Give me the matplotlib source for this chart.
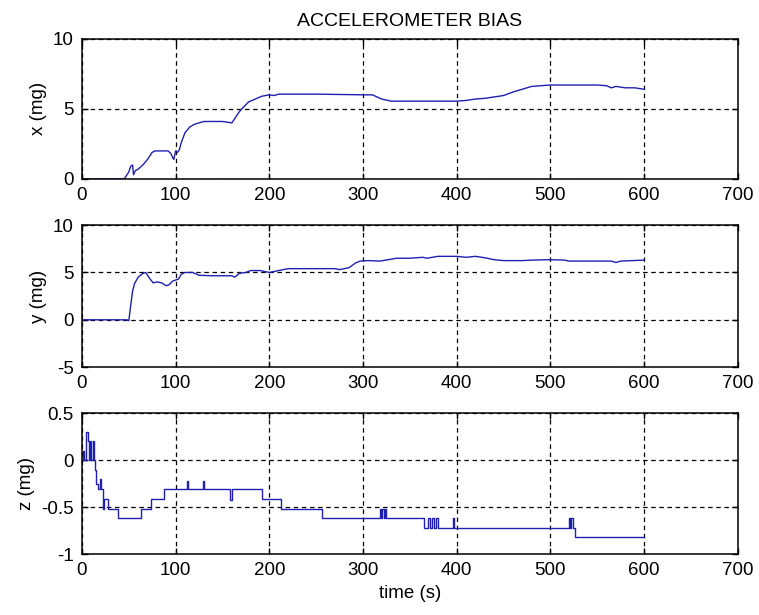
import matplotlib
matplotlib.use("Agg")
import matplotlib.pyplot as plt

plt.rcParams['font.family'] = ['Liberation Sans', 'DejaVu Sans']
plt.rcParams['axes.unicode_minus'] = False

# x bias (mg)
tx = [0, 45, 50, 52, 54, 55, 57, 60, 65, 70, 75, 78, 85, 92, 95, 97, 98, 100, 102, 104, 106, 110, 115,
      120, 125, 130, 140, 150, 160, 163, 168, 172, 178, 185, 192, 200, 205, 210, 250, 300, 310, 315,
      320, 330, 400, 410, 420, 430, 440, 450, 460, 470, 480, 490, 500, 520, 550, 560, 565, 570, 580,
      590, 600]
xb = [0, 0, 0.5, 0.9, 1.0, 0.3, 0.6, 0.7, 1.0, 1.4, 1.9, 2.0, 2.0, 2.0, 1.8, 1.5, 1.4, 2.0, 1.9, 2.1,
      2.6, 3.3, 3.7, 3.9, 4.0, 4.1, 4.1, 4.1, 4.0, 4.3, 4.8, 5.1, 5.5, 5.7, 5.9, 6.0, 5.95, 6.05, 6.05,
      6.0, 6.0, 5.85, 5.7, 5.55, 5.55, 5.6, 5.7, 5.75, 5.85, 5.95, 6.2, 6.4, 6.6, 6.65, 6.7, 6.7, 6.7,
      6.65, 6.5, 6.6, 6.5, 6.5, 6.4]

# y bias (mg)
ty = [0, 48, 50, 52, 54, 56, 60, 65, 68, 72, 76, 80, 85, 90, 93, 97, 100, 103, 106, 110, 118, 125,
      140, 160, 163, 168, 175, 180, 190, 200, 210, 220, 240, 270, 275, 285, 292, 297, 305, 318, 336,
      350, 364, 368, 380, 400, 410, 420, 430, 440, 450, 470, 480, 500, 515, 520, 565, 570, 575, 600]
yb = [0, 0, -0.1, 1.5, 3.0, 3.8, 4.5, 4.9, 5.0, 4.4, 3.9, 4.0, 3.9, 3.6, 3.7, 4.1, 4.2, 4.3, 4.8,
      5.0, 5.0, 4.7, 4.65, 4.65, 4.5, 4.9, 5.0, 5.2, 5.2, 5.0, 5.2, 5.4, 5.4, 5.4, 5.3, 5.5, 6.0, 6.2,
      6.25, 6.2, 6.5, 6.5, 6.6, 6.5, 6.7, 6.7, 6.6, 6.7, 6.55, 6.35, 6.25, 6.25, 6.3, 6.35, 6.3, 6.2,
      6.2, 6.05, 6.2, 6.3]

# z bias (mg), stepwise
tz = [0, 1, 2, 4, 6, 7, 9, 10, 12, 13, 14, 15, 17, 19, 20, 22, 24, 28, 38, 63, 74, 88, 112, 113,
      129, 130, 158, 160, 192, 212, 256, 318, 319, 320, 322, 323, 325, 365, 369, 371, 374, 376, 378,
      380, 396, 397, 520, 521, 522, 524, 526, 600]
zb = [0.0, 0.1, 0.0, 0.3, 0.2, 0.0, 0.2, 0.0, 0.2, 0.0, -0.1, -0.25, -0.31, -0.2, -0.31, -0.52,
      -0.41, -0.52, -0.62, -0.52, -0.41, -0.31, -0.22, -0.31, -0.22, -0.31, -0.42, -0.31, -0.41,
      -0.52, -0.62, -0.52, -0.62, -0.52, -0.62, -0.52, -0.62, -0.72, -0.62, -0.72, -0.62, -0.72,
      -0.62, -0.72, -0.62, -0.72, -0.62, -0.72, -0.62, -0.72, -0.82, -0.82]

col = '#1f1fb0'
dash = (0, (3.6, 2.9))

fig = plt.figure(figsize=(7.59, 6.15), dpi=100)
boxes = [[0.108, 0.709, 0.864, 0.228],
         [0.108, 0.403, 0.864, 0.231],
         [0.108, 0.099, 0.864, 0.229]]
axs = [fig.add_axes(b) for b in boxes]

axs[0].plot(tx, xb, color=col, lw=1)
axs[0].set_ylim(0, 10)
axs[0].set_yticks([0, 5, 10])
axs[0].set_ylabel('x (mg)')
axs[0].set_title('ACCELEROMETER BIAS', fontsize=14, pad=9)

axs[1].plot(ty, yb, color=col, lw=1)
axs[1].set_ylim(-5, 10)
axs[1].set_yticks([-5, 0, 5, 10])
axs[1].set_ylabel('y (mg)')

axs[2].plot(tz, zb, color=col, lw=1, drawstyle='steps-post')
axs[2].set_ylim(-1, 0.5)
axs[2].set_yticks([-1, -0.5, 0, 0.5])
axs[2].set_yticklabels(['-1', '-0.5', '0', '0.5'])
axs[2].set_ylabel('z (mg)')
axs[2].set_xlabel('time (s)')

for ax in axs:
    ax.set_xlim(0, 700)
    ax.set_xticks(range(0, 701, 100))
    ax.grid(True, color='black', linestyle=dash, lw=0.9)
    ax.tick_params(direction='in', length=4, labelsize=13.5, top=True, right=True, pad=6, width=1)
    ax.yaxis.label.set_size(13.5)
    ax.xaxis.label.set_size(13.5)
    for s in ax.spines.values():
        s.set_linewidth(1.1)

plt.savefig('out.png', dpi=100)
